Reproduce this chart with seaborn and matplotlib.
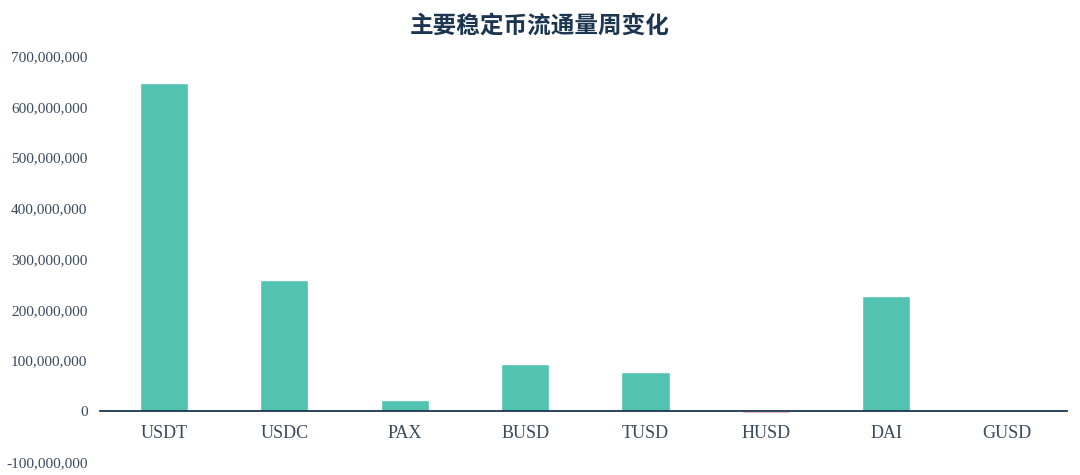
import matplotlib
matplotlib.use("Agg")
import matplotlib.pyplot as plt
import seaborn as sns
import pandas as pd
from matplotlib.ticker import FuncFormatter

# Data (weekly change in circulating supply)
coins = ["USDT", "USDC", "PAX", "BUSD", "TUSD", "HUSD", "DAI", "GUSD"]
changes = [647000000, 258000000, 22000000, 93000000, 77000000, -2500000, 227000000, 0]

pos_color = "#52C3B1"
neg_color = "#E0909A"
text_color = "#3A4A5C"
navy = "#1C3550"

df = pd.DataFrame({"coin": coins, "change": changes})
df["sign"] = ["neg" if v < 0 else "pos" for v in changes]

sns.set_theme(style="white")
plt.rcParams["font.family"] = ["Liberation Serif", "DejaVu Serif"]

fig = plt.figure(figsize=(10.8, 4.75), dpi=100)
ax = fig.add_axes([0.0926, 0.0274, 0.8954, 0.8546])

sns.barplot(data=df, x="coin", y="change", hue="sign",
            palette={"pos": pos_color, "neg": neg_color},
            width=0.4, dodge=False, legend=False, saturation=1, ax=ax)

ax.set_ylim(-100000000, 700000000)
ax.set_xlim(-0.53, 7.5)
ax.set_yticks(range(-100000000, 700000001, 100000000))
ax.yaxis.set_major_formatter(FuncFormatter(lambda v, p: f"{int(v):,}"))

# zero line as the x axis, category labels right beneath it
for s in ["top", "right", "left"]:
    ax.spines[s].set_visible(False)
ax.spines["bottom"].set_position(("data", 0))
ax.spines["bottom"].set_color(navy)
ax.spines["bottom"].set_linewidth(1.3)
ax.spines["bottom"].set_zorder(3)

ax.tick_params(axis="y", length=0, labelsize=11, labelcolor=text_color, pad=9)
ax.tick_params(axis="x", length=0, labelsize=13, labelcolor=text_color, pad=10)
ax.set_xlabel("")
ax.set_ylabel("")

fig.suptitle("主要稳定币流通量周变化", x=0.50, y=0.972,
             fontsize=17, fontweight="bold", color=navy,
             family=["Noto Sans CJK SC", "DejaVu Sans"])

fig.savefig("out.png", dpi=100)
